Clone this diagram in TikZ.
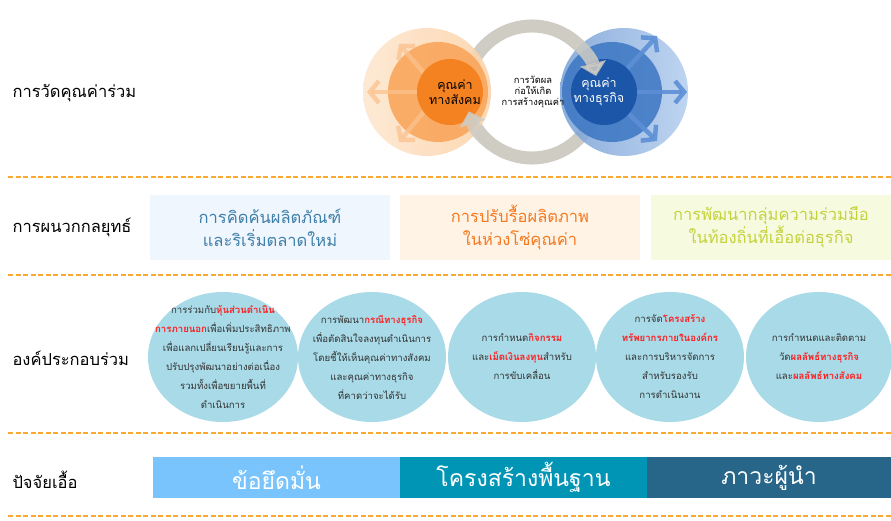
\documentclass[tikz,border=0pt]{standalone}
\usepackage{fontspec}
\usepackage{xcolor}
\usetikzlibrary{arrows.meta}
\newfontfamily\thaifont[Script=Thai]{Loma}

\definecolor{sepline}{HTML}{F9A832}
\definecolor{orgLight}{HTML}{FCD3AA}
\definecolor{orgMid}{HTML}{F9A65C}
\definecolor{orgDark}{HTML}{F48221}
\definecolor{orgArrow}{HTML}{FBC28E}
\definecolor{bluLight}{HTML}{B3CDEE}
\definecolor{bluMid}{HTML}{3C76C3}
\definecolor{bluDark}{HTML}{1B56A8}
\definecolor{bluArrow}{HTML}{5C8FD6}
\definecolor{ringGray}{HTML}{CFCCC4}
\definecolor{boxBlue}{HTML}{EFF6FD}
\definecolor{boxPeach}{HTML}{FEF3E5}
\definecolor{boxLime}{HTML}{F6FADF}
\definecolor{txtBlue}{HTML}{3F7FA9}
\definecolor{txtOrange}{HTML}{F47A22}
\definecolor{txtLime}{HTML}{C5D23F}
\definecolor{bubbleFill}{HTML}{A8DAE8}
\definecolor{hlred}{HTML}{FF1E1E}
\definecolor{barOne}{HTML}{79C4FD}
\definecolor{barTwo}{HTML}{0095B4}
\definecolor{barThree}{HTML}{286689}

\newcommand{\redword}[1]{{\color{hlred}\bfseries #1}}

\begin{document}
\begin{tikzpicture}
	[
		x=1pt, y=1pt,
		rowlabel/.style={anchor=west,text=black,font=\thaifont\fontsize{16.5}{20}\selectfont},
		sep/.style={sepline,line width=1.3pt,dash pattern=on 5pt off 2.5pt},
		ring/.style={ringGray,line width=13pt},
		ringtip/.style={ring,opacity=0.85,-{Triangle[length=13pt,width=26pt]}},
		orgarrow/.style={orgArrow,line width=4.5pt,opacity=0.75,-{Straight Barb[length=9pt,width=22pt]}},
		bluarrow/.style={bluArrow,line width=4.5pt,opacity=0.9,-{Straight Barb[length=9pt,width=22pt]}},
		valtext/.style={align=center,font=\thaifont\fontsize{12.5}{15}\selectfont},
		stratbox/.style={minimum width=240pt,minimum height=65pt,inner sep=0pt,align=center,font=\thaifont\fontsize{16.5}{23}\selectfont},
		bubble/.style={bubbleFill},
		bubbletext/.style={align=center,inner sep=0pt,text=black!80,font=\thaifont\fontsize{9.6}{19}\selectfont},
		barcell/.style={minimum width=247pt,minimum height=41pt,inner sep=0pt,text=white,font=\thaifont\fontsize{23}{26}\selectfont}
	]
	\useasboundingbox (0,0) rectangle (891,520);

	% Draw separators.
	\draw[sep] (8,343) -- (891,343);
	\draw[sep] (8,245) -- (891,245);
	\draw[sep] (8,87) -- (891,87);
	\draw[sep] (8,4) -- (891,4);

	% Draw row labels.
	\node[rowlabel] (lblmeasure) at (9,427) {การวัดคุณค่าร่วม};
	\node[rowlabel] (lblstrategy) at (9,293) {การผนวกกลยุทธ์};
	\node[rowlabel] (lblparts) at (9,162) {องค์ประกอบร่วม};
	\node[rowlabel] (lblenablers) at (9,40) {ปัจจัยเอื้อ};

	% Draw ring behind the circles.
	\draw[ring] (532,428) ++(160:66) arc[start angle=160,end angle=15,radius=66];
	\draw[ring] (532,428) ++(-20:66) arc[start angle=-20,end angle=-165,radius=66];

	% Draw social value circles.
	\shade[left color=orgLight!55,right color=orgLight,opacity=0.9] (427,428) circle (64);
	\fill[orgMid,opacity=0.9] (438,428) circle (50);
	\draw[orgarrow] (440,428) -- (367,428);
	\draw[orgarrow] (440,428) -- (399,476);
	\draw[orgarrow] (440,428) -- (399,378);
	\fill[orgDark] (450,428) circle (33);

	% Draw business value circles.
	\shade[left color=bluMid!70,right color=bluLight,opacity=0.85] (624,428) circle (64);
	\fill[bluMid,opacity=0.85] (612,428) circle (50);
	\draw[bluarrow] (606,428) -- (687,428);
	\draw[bluarrow] (606,428) -- (657,484);
	\draw[bluarrow] (606,428) -- (657,379);
	\fill[bluDark] (604,428) circle (33);

	% Draw arrow ends over the circles.
	\draw[ringtip] (532,428) ++(60:66) arc[start angle=60,end angle=14,radius=66];
	\draw[ringtip] (532,428) ++(-110:66) arc[start angle=-110,end angle=-163,radius=66];

	% Draw value texts.
	\node[valtext,text=black] (socialvalue) at (455,428) {คุณค่า\\ทางสังคม};
	\node[valtext,text=white] (businessvalue) at (599,428) {คุณค่า\\ทางธุรกิจ};
	\node[align=center,font=\thaifont\fontsize{9.3}{11}\selectfont] (measuring) at (533,428) {การวัดผล\\ก่อให้เกิด\\การสร้างคุณค่า};

	% Draw strategy boxes.
	\node[stratbox,fill=boxBlue,text=txtBlue] (innovate) at (270,292.5) {การคิดค้นผลิตภัณฑ์\\และริเริ่มตลาดใหม่};
	\node[stratbox,fill=boxPeach,text=txtOrange] (productivity) at (520,292.5) {การปรับรื้อผลิตภาพ\\ในห่วงโซ่คุณค่า};
	\node[stratbox,fill=boxLime,text=txtLime] (cluster) at (771,292.5) {การพัฒนากลุ่มความร่วมมือ\\ในท้องถิ่นที่เอื้อต่อธุรกิจ};

	% Draw component bubbles.
	\fill[bubble] (223,163) ellipse [x radius=75, y radius=65];
	\fill[bubble] (372,163) ellipse [x radius=74, y radius=65];
	\fill[bubble] (522,163) ellipse [x radius=74, y radius=65];
	\fill[bubble] (670,163) ellipse [x radius=74, y radius=65];
	\fill[bubble] (819,163) ellipse [x radius=73, y radius=65];
	\node[bubbletext] (partners) at (223,163) {การร่วมกับ\redword{หุ้นส่วนดำเนิน}\\\redword{การภายนอก}เพื่อเพิ่มประสิทธิภาพ\\เพื่อแลกเปลี่ยนเรียนรู้และการ\\ปรับปรุงพัฒนาอย่างต่อเนื่อง\\รวมทั้งเพื่อขยายพื้นที่\\ดำเนินการ};
	\node[bubbletext] (businesscase) at (372,163) {การพัฒนา\redword{กรณีทางธุรกิจ}\\เพื่อตัดสินใจลงทุนดำเนินการ\\โดยชี้ให้เห็นคุณค่าทางสังคม\\และคุณค่าทางธุรกิจ\\ที่คาดว่าจะได้รับ};
	\node[bubbletext] (funding) at (522,163) {การกำหนด\redword{กิจกรรม}\\และ\redword{เม็ดเงินลงทุน}สำหรับ\\การขับเคลื่อน};
	\node[bubbletext] (structure) at (670,163) {การจัด\redword{โครงสร้าง}\\\redword{ทรัพยากรภายในองค์กร}\\และการบริหารจัดการ\\สำหรับรองรับ\\การดำเนินงาน};
	\node[bubbletext] (tracking) at (819,163) {การกำหนดและติดตาม\\วัด\redword{ผลลัพธ์ทางธุรกิจ}\\และ\redword{ผลลัพธ์ทางสังคม}};

	% Draw enabler bar.
	\node[barcell,fill=barOne] (commitment) at (276.5,42.5) {ข้อยึดมั่น};
	\node[barcell,fill=barTwo] (infrastructure) at (523.5,42.5) {โครงสร้างพื้นฐาน};
	\node[barcell,fill=barThree,minimum width=244pt] (leadership) at (769,42.5) {ภาวะผู้นำ};
\end{tikzpicture}
\end{document}
